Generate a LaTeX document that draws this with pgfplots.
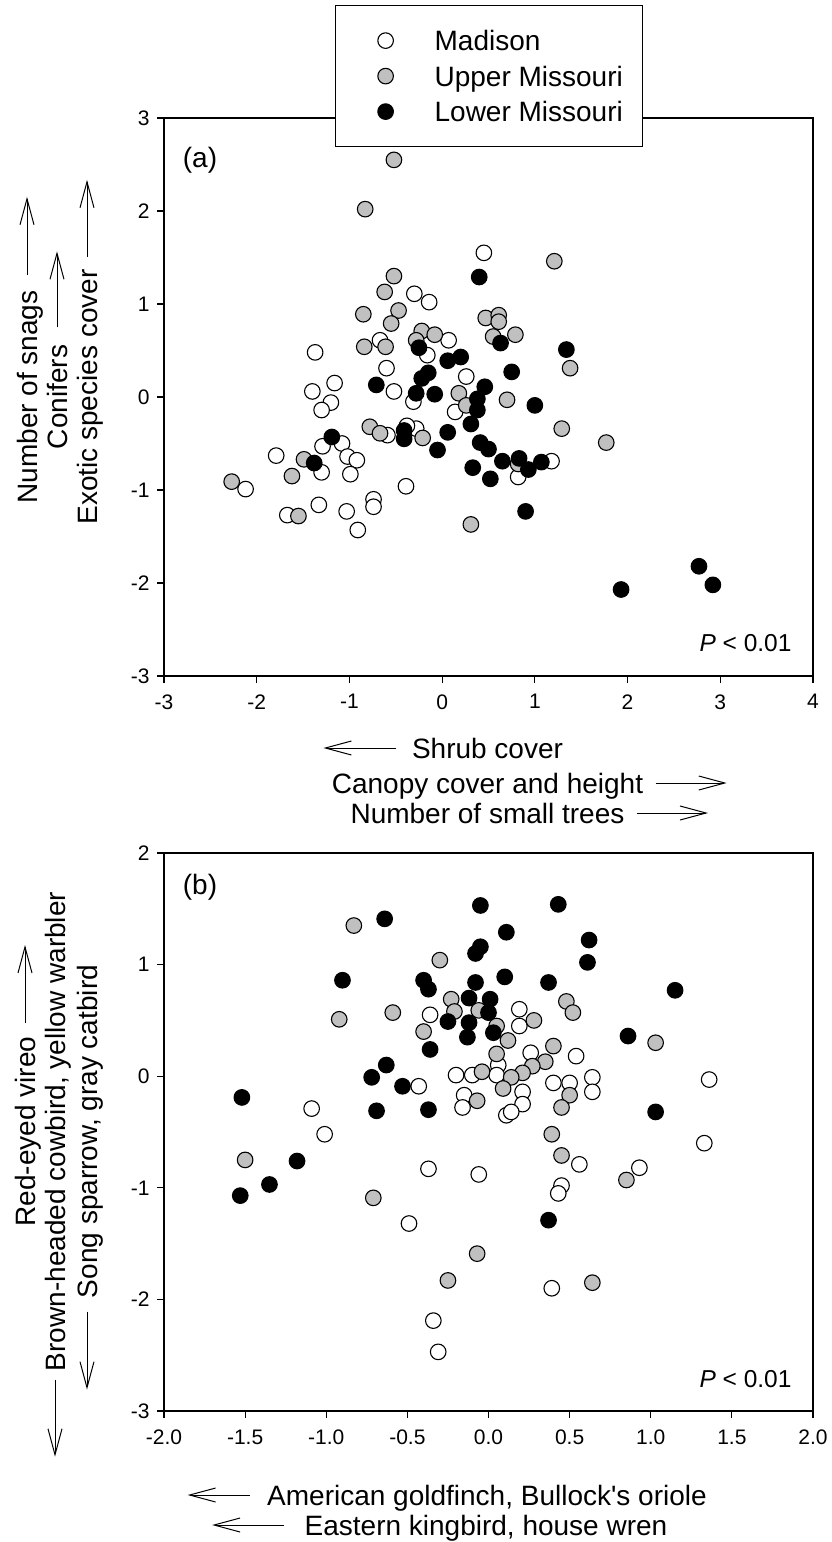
\documentclass[border=0pt]{standalone}
\usepackage{fontspec}
\setmainfont{Liberation Sans}
\usepackage{pgfplots}
\pgfplotsset{compat=1.18}
\usetikzlibrary{arrows.meta}

\definecolor{uppergray}{RGB}{192,192,192}
\newcommand{\fs}[1]{\fontsize{#1}{#1}\selectfont}

\pgfplotsset{
  site/.style={only marks, mark=*, mark size=7.8pt,
    mark options={draw=black, line width=1.1pt, fill=#1}},
  panel/.style={
    scale only axis, width=649pt, height=558pt, anchor=south west,
    axis line style={line width=1.2pt},
    tick style={line width=1.2pt, black},
    tick align=outside, major tick length=7pt,
    xtick pos=left, ytick pos=left,
    ticklabel style={font=\fs{21}},
    xticklabel style={yshift=-8pt},
    yticklabel style={xshift=-4pt},
    legend image code/.code={
      \path[draw=none, fill=none] (-30pt,-10pt) rectangle (30pt,10pt);
      \draw[##1] plot coordinates {(0pt,0pt)};
    },
  },
}
\tikzset{arr/.style={line width=1pt, -{Straight Barb[length=26pt, width=14pt]}}}

\begin{document}
\begin{tikzpicture}
\useasboundingbox (0pt,0pt) rectangle (831pt,-1542pt);

% ---------------- panel (a): habitat gradients ----------------
\begin{axis}[panel, at={(164pt,-676pt)},
  xmin=-3, xmax=4, ymin=-3, ymax=3,
  xtick={-3,-2,-1,0,1,2,3,4}, xticklabels={-3,-2,-1,0,1,2,3,4},
  ytick={-3,-2,-1,0,1,2,3}, yticklabels={-3,-2,-1,0,1,2,3},
  legend cell align=left,
  legend style={at={(0.2635,1.2025)}, anchor=north west,
    draw=black, line width=1.2pt, fill=white,
    inner xsep=20pt, inner ysep=25pt, row sep=15.5pt, column sep=19pt,
    nodes={inner sep=0pt, text height=20pt, text depth=0pt, font=\fs{28}},
    cells={anchor=west}},
]
% Madison
\addplot[site=white] coordinates {
(0.45,1.55) (-0.30,1.11) (-0.14,1.02) (-0.67,0.61) (0.07,0.61) (-1.37,0.48)
(-0.16,0.45) (-0.60,0.31) (0.26,0.22) (-1.16,0.15) (-1.40,0.06) (-0.52,0.06)
(-1.20,-0.06) (-1.30,-0.14) (-0.31,-0.05) (0.14,-0.16) (-0.59,-0.41) (-0.28,-0.34)
(-0.38,-0.31) (-1.08,-0.50) (-1.29,-0.53) (-1.79,-0.63) (-1.02,-0.64) (-0.92,-0.68)
(-1.30,-0.81) (-0.99,-0.83) (-2.12,-0.99) (-0.39,-0.96) (-0.74,-1.10) (-0.74,-1.18)
(-1.33,-1.16) (-1.03,-1.23) (-1.67,-1.27) (-0.91,-1.43) (1.18,-0.69) (0.82,-0.86)
};
% Upper Missouri
\addplot[site=uppergray] coordinates {
(-0.52,2.55) (-0.83,2.02) (1.21,1.46) (-0.52,1.30) (-0.62,1.13) (-0.47,0.93)
(-0.85,0.89) (0.47,0.85) (0.61,0.88) (0.61,0.81) (-0.55,0.79) (-0.22,0.71)
(-0.08,0.67) (0.55,0.65) (0.79,0.67) (-0.84,0.54) (-0.61,0.54) (-0.28,0.61)
(1.38,0.31) (0.18,0.04) (0.70,-0.03) (0.26,-0.09) (-0.78,-0.32) (-0.67,-0.39)
(-0.21,-0.44) (1.29,-0.34) (1.77,-0.49) (-1.49,-0.67) (-1.62,-0.85) (-2.27,-0.91)
(-1.55,-1.28) (0.31,-1.37) (0.82,-0.72)
};
% Lower Missouri
\addplot[site=black] coordinates {
(0.40,1.29) (1.34,0.51) (0.63,0.58) (-0.25,0.53) (0.06,0.39) (0.20,0.43)
(0.75,0.27) (-0.15,0.26) (-0.22,0.20) (-0.71,0.13) (0.46,0.11) (-0.28,0.04)
(-0.08,0.03) (0.38,-0.02) (0.38,-0.14) (1.00,-0.09) (0.31,-0.29) (0.06,-0.38)
(-0.41,-0.36) (-0.41,-0.45) (-1.19,-0.43) (0.41,-0.49) (0.50,-0.56) (-0.05,-0.57)
(0.65,-0.69) (0.83,-0.66) (0.93,-0.78) (1.07,-0.70) (-1.38,-0.71) (0.33,-0.76)
(0.52,-0.88) (0.90,-1.23) (1.93,-2.07) (2.77,-1.82) (2.92,-2.02)
};
\legend{Madison, Upper Missouri, Lower Missouri}
\end{axis}

% ---------------- panel (b): bird species gradients ----------------
\begin{axis}[panel, at={(164pt,-1411pt)},
  xmin=-2, xmax=2, ymin=-3, ymax=2,
  xtick={-2,-1.5,-1,-0.5,0,0.5,1,1.5,2},
  xticklabels={-2.0,-1.5,-1.0,-0.5,0.0,0.5,1.0,1.5,2.0},
  ytick={-3,-2,-1,0,1,2}, yticklabels={-3,-2,-1,0,1,2},
]
% Madison
\addplot[site=white] coordinates {
(-0.36,0.55) (0.19,0.60) (0.19,0.45) (0.26,0.21) (0.54,0.18) (0.06,0.10)
(-0.20,0.01) (-0.10,0.01) (0.05,0.01) (0.64,-0.01) (1.36,-0.03) (-0.43,-0.09)
(0.40,-0.06) (0.50,-0.06) (0.64,-0.14) (-0.15,-0.17) (0.21,-0.14) (-1.09,-0.29)
(-0.16,-0.28) (0.21,-0.25) (0.11,-0.35) (0.14,-0.32) (-1.01,-0.52) (1.33,-0.60)
(0.56,-0.79) (0.93,-0.82) (-0.37,-0.83) (-0.06,-0.88) (0.45,-0.98) (0.43,-1.05)
(-0.49,-1.32) (0.39,-1.90) (-0.34,-2.19) (-0.31,-2.47)
};
% Upper Missouri
\addplot[site=uppergray] coordinates {
(-0.83,1.35) (-0.30,1.04) (-0.92,0.51) (-0.59,0.57) (-0.23,0.69) (-0.21,0.58)
(-0.06,0.59) (0.05,0.45) (-0.40,0.40) (0.48,0.67) (0.52,0.57) (0.28,0.50)
(0.12,0.32) (0.05,0.20) (0.40,0.27) (1.03,0.30) (0.35,0.13) (0.27,0.09)
(0.21,0.03) (0.14,-0.01) (-0.04,0.04) (0.09,-0.11) (-0.07,-0.22) (0.50,-0.17)
(0.45,-0.28) (0.39,-0.52) (0.45,-0.71) (-1.50,-0.75) (0.85,-0.93) (-0.71,-1.09)
(-0.07,-1.59) (-0.25,-1.83) (0.64,-1.85)
};
% Lower Missouri
\addplot[site=black] coordinates {
(-0.05,1.53) (0.43,1.54) (-0.64,1.41) (0.11,1.29) (0.62,1.22) (-0.05,1.16)
(-0.08,1.10) (0.61,1.02) (-0.90,0.86) (-0.40,0.86) (-0.37,0.78) (-0.08,0.84)
(0.10,0.89) (0.37,0.84) (1.15,0.77) (-0.12,0.70) (0.01,0.69) (0.00,0.57)
(-0.25,0.49) (-0.12,0.48) (0.03,0.39) (-0.13,0.35) (0.86,0.36) (-0.36,0.24)
(-0.63,0.10) (-0.72,-0.01) (-0.53,-0.09) (-1.52,-0.19) (-0.69,-0.31) (-0.37,-0.30)
(1.03,-0.32) (-1.18,-0.76) (-1.35,-0.97) (-1.53,-1.07) (0.37,-1.29)
};
\end{axis}

% ---------------- panel tags and test results ----------------
\node[font=\fs{28}] at (200pt,-160pt) {(a)};
\node[font=\fs{28}] at (200pt,-887pt) {(b)};
\node[anchor=base east, font=\fs{24.5}] at (795pt,-651pt) {\textit{P} < 0.01};
\node[anchor=base east, font=\fs{24.5}] at (795pt,-1387pt) {\textit{P} < 0.01};

% ---------------- panel (a) axis titles ----------------
\node[anchor=base, font=\fs{28}] (sa) at (487.5pt,-758pt) {Shrub cover};
\draw[arr] ([shift={(-12pt,10pt)}]sa.base west) -- ++(-73pt,0pt);
\node[anchor=base, font=\fs{28}] (sb) at (487.5pt,-793pt) {Canopy cover and height};
\draw[arr] ([shift={(9pt,10pt)}]sb.base east) -- ++(71pt,0pt);
\node[anchor=base, font=\fs{28}] (sc) at (487.5pt,-823pt) {Number of small trees};
\draw[arr] ([shift={(9pt,10pt)}]sc.base east) -- ++(71pt,0pt);

\node[rotate=90, anchor=base, font=\fs{28}] (ya) at (37pt,-397pt) {Number of snags};
\draw[arr] ([shift={(-10pt,12pt)}]ya.base east) -- ++(0pt,78pt);
\node[rotate=90, anchor=base, font=\fs{28}] (yb) at (67pt,-397pt) {Conifers};
\draw[arr] ([shift={(-10pt,14pt)}]yb.base east) -- ++(0pt,76pt);
\node[rotate=90, anchor=base, font=\fs{28}] (yc) at (97pt,-397pt) {Exotic species cover};
\draw[arr] ([shift={(-10pt,9pt)}]yc.base east) -- ++(0pt,77pt);

% ---------------- panel (b) axis titles ----------------
\node[anchor=base, font=\fs{28}] (xa) at (487pt,-1505pt) {American goldfinch, Bullock\textquotesingle s oriole};
\draw[arr] ([shift={(-14pt,10pt)}]xa.base west) -- ++(-62pt,0pt);
\node[anchor=base, font=\fs{28}] (xb) at (486pt,-1535pt) {Eastern kingbird, house wren};
\draw[arr] ([shift={(-17pt,10pt)}]xb.base west) -- ++(-72pt,0pt);

\node[rotate=90, anchor=base, font=\fs{28}] (ra) at (35pt,-1131.5pt) {Red-eyed vireo};
\draw[arr] ([shift={(-10pt,10pt)}]ra.base east) -- ++(0pt,78pt);
\node[rotate=90, anchor=base, font=\fs{28}] (rb) at (65pt,-1131.5pt) {Brown-headed cowbird, yellow warbler};
\draw[arr] ([shift={(-10pt,-5pt)}]rb.base west) -- ++(0pt,-77pt);
\node[rotate=90, anchor=base, font=\fs{28}] (rc) at (97pt,-1131.5pt) {Song sparrow, gray catbird};
\draw[arr] ([shift={(-10pt,-10pt)}]rc.base west) -- ++(0pt,-78pt);
\end{tikzpicture}
\end{document}
